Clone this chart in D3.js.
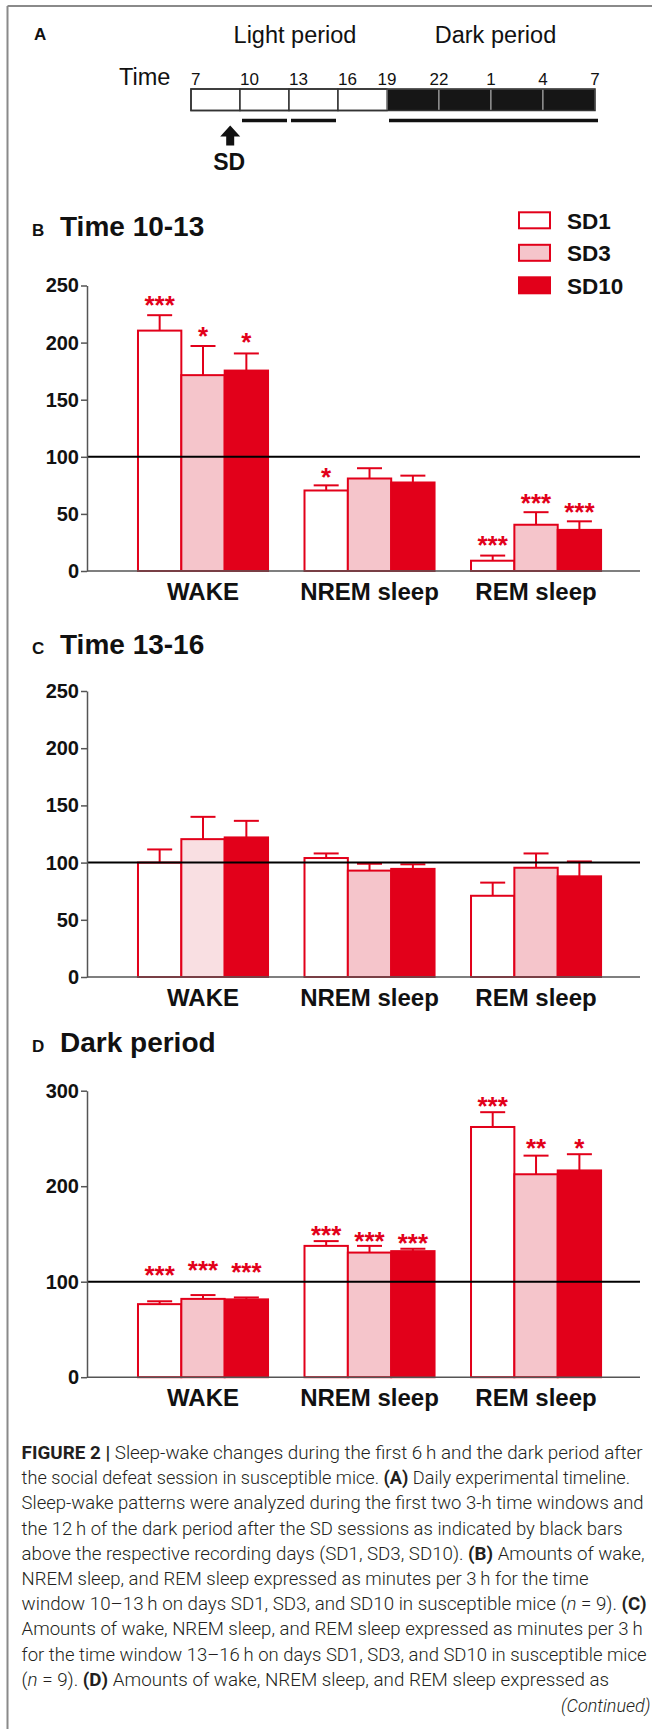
<!DOCTYPE html>
<html><head><meta charset="utf-8">
<script src="https://cdn.jsdelivr.net/npm/d3@7"></script>
<style>html,body{margin:0;padding:0;background:#fff;} svg{display:block;}</style>
</head><body>
<svg id="chart" width="652" height="1729"></svg>
<script>
// ---------------- DATA ----------------
const categories = ["WAKE", "NREM sleep", "REM sleep"];
const series = ["SD1", "SD3", "SD10"];

// Panel B: Time 10-13 (values per category: WAKE, NREM, REM)
const B_SD1 = [210.5, 70.5, 9];      const B_SD1_ERR = [13.5, 4.5, 4.5];
const B_SD3 = [171.5, 81, 40.5];     const B_SD3_ERR = [25.5, 9, 11];
const B_SD10 = [175.5, 77.5, 36];    const B_SD10_ERR = [15, 6, 7.5];
const B_SD1_STARS = ["***", "*", "***"];
const B_SD3_STARS = ["*", "", "***"];
const B_SD10_STARS = ["*", "", "***"];
const B_SD1_STARPOS = [237, 86.5, 27];
const B_SD3_STARPOS = [210, null, 64];
const B_SD10_STARPOS = [205, null, 56];
const B_TICKS = [0, 50, 100, 150, 200, 250];

// Panel C: Time 13-16
const C_SD1 = [100, 104, 71];        const C_SD1_ERR = [11.5, 4, 11.5];
const C_SD3 = [120.5, 93, 95.5];     const C_SD3_ERR = [19.5, 6, 12.5];
const C_SD10 = [122, 94.5, 88];      const C_SD10_ERR = [14.5, 4, 13];
const C_TICKS = [0, 50, 100, 150, 200, 250];

// Panel D: Dark period
const D_SD1 = [76.5, 137.5, 262];    const D_SD1_ERR = [3, 5, 15.5];
const D_SD3 = [82, 130.5, 212.5];    const D_SD3_ERR = [4, 7, 19.5];
const D_SD10 = [81.5, 132, 216.5];   const D_SD10_ERR = [2, 2.5, 17];
const D_SD1_STARS = ["***", "***", "***"];
const D_SD3_STARS = ["***", "***", "**"];
const D_SD10_STARS = ["***", "***", "*"];
const D_SD1_STARPOS = [112, 154, 289.5];
const D_SD3_STARPOS = [117, 148, 245.5];
const D_SD10_STARPOS = [115.5, 146, 245];
const D_TICKS = [0, 100, 200, 300];

const REFERENCE_LEVEL = 100;

// Panel A timeline
const timeHours = [7, 10, 13, 16, 19, 22, 25, 28, 31];
const timeLabels = ["7", "10", "13", "16", "19", "22", "1", "4", "7"];
const darkStartHour = 19;
const analysisWindows = [[10, 13], [13, 16], [19, 31]];
const sdHour = 9.4;

// Caption
const captionLines = [
  [["b", "FIGURE 2 |"], ["n", " Sleep-wake changes during the first 6\u2009h and the dark period after"]],
  [["n", "the social defeat session in susceptible mice. "], ["b", "(A)"], ["n", " Daily experimental timeline."]],
  [["n", "Sleep-wake patterns were analyzed during the first two 3-h time windows and"]],
  [["n", "the 12\u2009h of the dark period after the SD sessions as indicated by black bars"]],
  [["n", "above the respective recording days (SD1, SD3, SD10). "], ["b", "(B)"], ["n", " Amounts of wake,"]],
  [["n", "NREM sleep, and REM sleep expressed as minutes per 3\u2009h for the time"]],
  [["n", "window 10\u201313\u2009h on days SD1, SD3, and SD10 in susceptible mice ("], ["i", "n"], ["n", " = 9). "], ["b", "(C)"]],
  [["n", "Amounts of wake, NREM sleep, and REM sleep expressed as minutes per 3\u2009h"]],
  [["n", "for the time window 13\u201316\u2009h on days SD1, SD3, and SD10 in susceptible mice"]],
  [["n", "("], ["i", "n"], ["n", " = 9). "], ["b", "(D)"], ["n", " Amounts of wake, NREM sleep, and REM sleep expressed as"]]
];
const captionWidths = [621, 608.5, 622, 601, 623, 567, 625, 621, 625, 587.5];

// ---------------- STYLE ----------------
const RED = "#e2001a";
const PINK = "#f5c5cb";
const PALE = "#f9dfe2";
const FONT = "'Liberation Sans', Arial, Helvetica, sans-serif";

const svg = d3.select("#chart");

// frame lines (top & left)
svg.append("line").attr("x1", 7.5).attr("x2", 652).attr("y1", 6).attr("y2", 6)
  .attr("stroke", "#8a8a8a").attr("stroke-width", 2);
svg.append("line").attr("x1", 7.5).attr("x2", 7.5).attr("y1", 6).attr("y2", 1729)
  .attr("stroke", "#8a8a8a").attr("stroke-width", 2);

// ---------------- PANEL A ----------------
(function panelA() {
  const g = svg.append("g");
  const xt = d3.scaleLinear().domain([7, darkStartHour, 31]).range([191, 387, 595]);
  g.append("text").attr("x", 34).attr("y", 40).text("A")
    .attr("font-family", FONT).attr("font-weight", "bold").attr("font-size", 17).attr("fill", "#111");
  g.append("text").attr("x", 295).attr("y", 43).attr("text-anchor", "middle").text("Light period")
    .attr("font-family", FONT).attr("font-size", 23.5).attr("fill", "#111");
  g.append("text").attr("x", 495.5).attr("y", 43).attr("text-anchor", "middle").text("Dark period")
    .attr("font-family", FONT).attr("font-size", 23.5).attr("fill", "#111");
  g.append("text").attr("x", 119).attr("y", 85).text("Time")
    .attr("font-family", FONT).attr("font-size", 23.5).attr("fill", "#111");
  g.selectAll("text.hr").data(timeHours).join("text").attr("class", "hr")
    .attr("x", d => xt(d))
    .attr("y", 85)
    .attr("text-anchor", d => d < darkStartHour ? "start" : "middle")
    .attr("font-family", FONT).attr("font-size", 17).attr("fill", "#111")
    .text((d, i) => timeLabels[i]);
  const segs = d3.pairs(timeHours);
  g.selectAll("rect.seg").data(segs).join("rect").attr("class", "seg")
    .attr("x", d => xt(d[0])).attr("width", d => xt(d[1]) - xt(d[0]))
    .attr("y", 89).attr("height", 21.5)
    .attr("fill", d => d[0] >= darkStartHour ? "#161616" : "#fff")
    .attr("stroke", d => d[0] >= darkStartHour ? "#b0b0b0" : "#333")
    .attr("stroke-width", d => d[0] >= darkStartHour ? 1 : 1.5);
  g.append("rect").attr("x", xt(7)).attr("y", 89).attr("width", xt(31) - xt(7)).attr("height", 21.5)
    .attr("fill", "none").attr("stroke", "#333").attr("stroke-width", 1.5);
  g.selectAll("line.win").data(analysisWindows).join("line").attr("class", "win")
    .attr("x1", d => xt(d[0]) + 2).attr("x2", d => xt(d[1]) - (d[1] === 31 ? -3 : 2))
    .attr("y1", 120.5).attr("y2", 120.5).attr("stroke", "#111").attr("stroke-width", 3.5);
  const ax = xt(sdHour);
  const arrow = d3.path();
  arrow.moveTo(ax, 125.5);
  arrow.lineTo(ax + 10, 136.5);
  arrow.lineTo(ax + 4, 136.5);
  arrow.lineTo(ax + 4, 145.5);
  arrow.lineTo(ax - 4, 145.5);
  arrow.lineTo(ax - 4, 136.5);
  arrow.lineTo(ax - 10, 136.5);
  arrow.closePath();
  g.append("path").attr("d", arrow.toString()).attr("fill", "#111");
  g.append("text").attr("x", ax - 1).attr("y", 170).attr("text-anchor", "middle").text("SD")
    .attr("font-family", FONT).attr("font-weight", "bold").attr("font-size", 23).attr("fill", "#111");
})();

// ---------------- BAR PANELS ----------------
function drawPanel(p) {
  const g = svg.append("g");
  const y = d3.scaleLinear().domain([0, p.yMax]).range([p.y0, p.yTop]);
  const x0 = d3.scaleBand().domain(categories).range([87, 640])
    .paddingInner(0.219).paddingOuter(0.27).align(0.567);
  const x1 = d3.scaleBand().domain(series).range([0, x0.bandwidth()]);

  // title
  g.append("text").attr("x", 32).attr("y", p.titleY).text(p.letter)
    .attr("font-family", FONT).attr("font-weight", "bold").attr("font-size", 17).attr("fill", "#111");
  g.append("text").attr("x", 60).attr("y", p.titleY).text(p.title)
    .attr("font-family", FONT).attr("font-weight", "bold").attr("font-size", 28).attr("fill", "#111");

  const rows = [];
  series.forEach((s, si) => {
    categories.forEach((c, ci) => {
      rows.push({
        s, c, si, ci,
        v: p.means[si][ci], e: p.errs[si][ci],
        star: p.stars ? p.stars[si][ci] : "",
        starPos: p.starPos ? p.starPos[si][ci] : null
      });
    });
  });

  const fillFor = d => {
    if (p.paleCell && p.paleCell[0] === d.si && p.paleCell[1] === d.ci) return PALE;
    return d.s === "SD1" ? "#fff" : d.s === "SD3" ? PINK : RED;
  };

  // bars
  g.selectAll("rect.bar").data(rows).join("rect").attr("class", "bar")
    .attr("x", d => x0(d.c) + x1(d.s))
    .attr("width", x1.bandwidth())
    .attr("y", d => y(d.v))
    .attr("height", d => y(0) - y(d.v))
    .attr("fill", fillFor)
    .attr("stroke", RED).attr("stroke-width", 2);

  // error bars
  const cx = d => x0(d.c) + x1(d.s) + x1.bandwidth() / 2;
  g.selectAll("line.err").data(rows).join("line").attr("class", "err")
    .attr("x1", cx).attr("x2", cx)
    .attr("y1", d => y(d.v)).attr("y2", d => y(d.v + d.e))
    .attr("stroke", RED).attr("stroke-width", 2);
  g.selectAll("line.cap").data(rows).join("line").attr("class", "cap")
    .attr("x1", d => cx(d) - 12.5).attr("x2", d => cx(d) + 12.5)
    .attr("y1", d => y(d.v + d.e)).attr("y2", d => y(d.v + d.e))
    .attr("stroke", RED).attr("stroke-width", 2);

  // stars
  g.selectAll("text.star").data(rows.filter(d => d.star)).join("text").attr("class", "star")
    .attr("x", cx).attr("y", d => y(d.starPos) + 14)
    .attr("text-anchor", "middle")
    .attr("font-family", FONT).attr("font-weight", "bold").attr("font-size", 26)
    .attr("fill", RED).text(d => d.star);

  // x baseline
  g.append("line").attr("x1", 87).attr("x2", 640).attr("y1", y(0)).attr("y2", y(0))
    .attr("stroke", "#555").attr("stroke-width", 1.5);
  // reference line at 100
  g.append("line").attr("x1", 87).attr("x2", 640).attr("y1", y(REFERENCE_LEVEL)).attr("y2", y(REFERENCE_LEVEL))
    .attr("stroke", "#000").attr("stroke-width", 2);

  // y axis
  const axis = g.append("g").attr("transform", "translate(87,0)")
    .call(d3.axisLeft(y).tickValues(p.ticks).tickSize(6).tickSizeOuter(0).tickPadding(2));
  axis.select(".domain").attr("stroke", "#555").attr("stroke-width", 1.5);
  axis.selectAll(".tick line").attr("stroke", "#555").attr("stroke-width", 1.5);
  axis.selectAll(".tick text").attr("font-family", FONT).attr("font-weight", "bold")
    .attr("font-size", 20).attr("fill", "#111");

  // category labels
  g.selectAll("text.cat").data(categories).join("text").attr("class", "cat")
    .attr("x", d => x0(d) + x0.bandwidth() / 2)
    .attr("y", y(0) + 29)
    .attr("text-anchor", "middle")
    .attr("font-family", FONT).attr("font-weight", "bold").attr("font-size", 24).attr("fill", "#111")
    .text(d => d);
}

drawPanel({
  letter: "B", title: "Time 10-13", titleY: 236,
  yMax: 250, y0: 571, yTop: 285.5, ticks: B_TICKS,
  means: [B_SD1, B_SD3, B_SD10], errs: [B_SD1_ERR, B_SD3_ERR, B_SD10_ERR],
  stars: [B_SD1_STARS, B_SD3_STARS, B_SD10_STARS],
  starPos: [B_SD1_STARPOS, B_SD3_STARPOS, B_SD10_STARPOS]
});
drawPanel({
  letter: "C", title: "Time 13-16", titleY: 654,
  yMax: 250, y0: 977, yTop: 691, ticks: C_TICKS,
  means: [C_SD1, C_SD3, C_SD10], errs: [C_SD1_ERR, C_SD3_ERR, C_SD10_ERR],
  paleCell: [1, 0]
});
drawPanel({
  letter: "D", title: "Dark period", titleY: 1052,
  yMax: 300, y0: 1377.2, yTop: 1090.7, ticks: D_TICKS,
  means: [D_SD1, D_SD3, D_SD10], errs: [D_SD1_ERR, D_SD3_ERR, D_SD10_ERR],
  stars: [D_SD1_STARS, D_SD3_STARS, D_SD10_STARS],
  starPos: [D_SD1_STARPOS, D_SD3_STARPOS, D_SD10_STARPOS]
});

// ---------------- LEGEND ----------------
(function legend() {
  const ly = d3.scalePoint().domain(series).range([212.3, 277.3]);
  const g = svg.append("g");
  g.selectAll("rect").data(series).join("rect")
    .attr("x", 519).attr("y", d => ly(d)).attr("width", 31).attr("height", 16)
    .attr("fill", d => d === "SD1" ? "#fff" : d === "SD3" ? PINK : RED)
    .attr("stroke", RED).attr("stroke-width", 2);
  g.selectAll("text").data(series).join("text")
    .attr("x", 567).attr("y", d => ly(d) + 16.3)
    .attr("font-family", FONT).attr("font-weight", "bold").attr("font-size", 22.5).attr("fill", "#111")
    .text(d => d);
})();

// ---------------- CAPTION ----------------
(function caption() {
  const g = svg.append("g");
  const CF = "Roboto, 'Liberation Sans', Arial, sans-serif";
  captionLines.forEach((parts, i) => {
    const t = g.append("text").attr("x", 21.6).attr("y", 1459 + i * 25.2)
      .attr("font-family", CF).attr("font-size", 18).attr("font-weight", 300).attr("fill", "#231f20")
      .attr("textLength", captionWidths[i]).attr("lengthAdjust", "spacingAndGlyphs");
    parts.forEach(([style, str]) => {
      const ts = t.append("tspan").text(str);
      if (style === "b") ts.attr("font-weight", 700);
      if (style === "i") ts.attr("font-style", "italic");
    });
  });
  g.append("text").attr("x", 561).attr("y", 1711.5)
    .attr("font-family", CF).attr("font-size", 18).attr("font-weight", 300)
    .attr("font-style", "italic").attr("fill", "#231f20").text("(Continued)");
})();
</script>
</body></html>
